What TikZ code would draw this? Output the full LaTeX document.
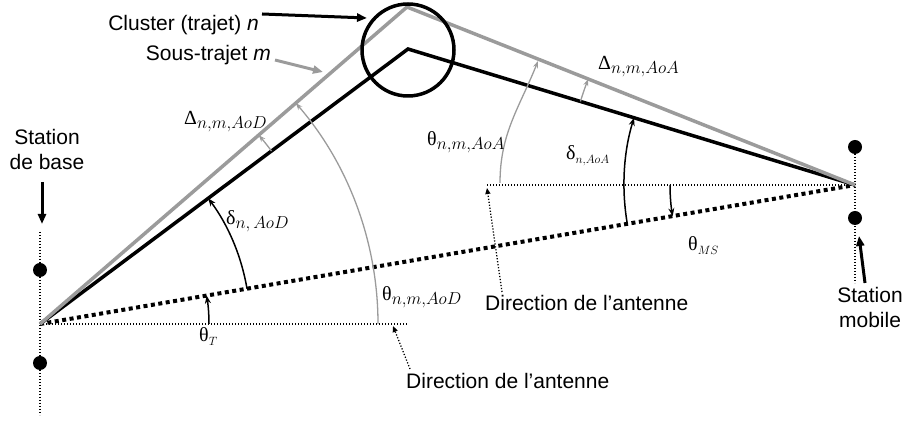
\documentclass[tikz,border=0pt]{standalone}
\usepackage{fontspec}
\setmainfont{Liberation Sans}
\newfontfamily\grk{Liberation Serif}
\usetikzlibrary{arrows.meta}
\definecolor{lg}{RGB}{155,155,155}
\newcommand{\glab}[3]{{\fontsize{20}{20}\selectfont\grk #1}\raisebox{-4pt}{\fontsize{#3}{#3}\selectfont$#2$}}
\begin{document}
\begin{tikzpicture}[x=1pt,y=1pt,
  lbl/.style={font=\fontsize{21}{25}\selectfont, inner sep=0pt},
  glb/.style={inner sep=0pt, anchor=west},
  thk/.style={line width=3.5pt},
  thindot/.style={line width=1.3pt, dash pattern=on 1.2pt off 1.8pt},
  losdot/.style={line width=4pt, dash pattern=on 4pt off 3.5pt},
  arcb/.style={line width=1.5pt, black, -{Stealth[length=8pt,width=6pt]}},
  arcg/.style={line width=1.3pt, lg, -{Stealth[length=7pt,width=5pt]}},
  bigarrow/.style={line width=3pt, -{Triangle[length=10pt,width=8pt]}},
  dotarrow/.style={thindot, -{Triangle[length=6pt,width=5pt]}},
  station/.style={circle, fill=black, inner sep=0pt, minimum size=14pt}
]
\useasboundingbox (0,0) rectangle (907,422);
% key points
\coordinate (BS) at (40,98);
\coordinate (MS) at (855,237);
\coordinate (G) at (407,415);
\coordinate (K) at (408,373);
\coordinate (BSh) at (408,98);
\coordinate (MSh) at (487,237);
% antenna axes
\coordinate (bst) at (40,190);
\coordinate (bsb) at (40,7);
\coordinate (mst) at (855,277);
\coordinate (msb) at (855,139);
\draw[thindot] (bst) -- (bsb);
\draw[thindot] (mst) -- (msb);
\node[station] (bs1) at (40,152) {};
\node[station] (bs2) at (40,59) {};
\node[station] (ms1) at (855,275) {};
\node[station] (ms2) at (855,204) {};
% directions
\draw[thindot] (BS) -- (BSh);
\draw[thindot] (MSh) -- (MS);
\draw[losdot] (BS) -- (MS);
% paths
\draw[thk, black] (BS) -- (K) -- (MS);
\draw[thk, lg] (BS) -- (G) -- (MS);
\node[draw, circle, line width=3.5pt, minimum size=92pt, inner sep=0pt] (cluster) at (408,372) {};
% angles at BS
\draw[arcb] (BS) ++(0:169) arc[start angle=0, end angle=9.68, radius=169];
\draw[arcb] (BS) ++(9.68:210) arc[start angle=9.68, end angle=36.77, radius=210];
\draw[arcg] (BS) ++(0:338) arc[start angle=0, end angle=40.82, radius=338];
\draw[arcg] (BS) ++(36.77:289) arc[start angle=36.77, end angle=40.82, radius=289];
% angles at MS
\coordinate (aoaS) at (500,239);
\coordinate (aoaE) at (538,361);
\draw[arcg] (aoaS) to[out=90, in=248.33] (aoaE);
\draw[arcb] (MS) ++(189.68:231) arc[start angle=189.68, end angle=163.08, radius=231];
\draw[arcb] (MS) ++(180:185) arc[start angle=180, end angle=189.68, radius=185];
\draw[arcg] (MS) ++(163.08:287) arc[start angle=163.08, end angle=158.33, radius=287];
% text labels
\node[lbl, anchor=east] (cl) at (259,397) {Cluster (trajet) \textit{n}};
\node[lbl, anchor=east] (st) at (271,367) {Sous-trajet \textit{m}};
\node[lbl, align=center] (sb) at (47,272) {Station\\de base};
\node[lbl, align=center] (sm) at (870,115) {Station\\mobile};
\node[lbl, anchor=west] (d1) at (406,41) {Direction de l’antenne};
\node[lbl, anchor=west] (d2) at (485,119) {Direction de l’antenne};
% label arrows
\coordinate (clS) at (262,408);
\coordinate (clE) at (367,404);
\draw[bigarrow] (clS) -- (clE);
\coordinate (stS) at (275,362);
\coordinate (stE) at (323,350);
\draw[bigarrow, lg] (stS) -- (stE);
\coordinate (sbS) at (42,240);
\coordinate (sbE) at (42,198);
\draw[bigarrow] (sbS) -- (sbE);
\coordinate (smS) at (865,139);
\coordinate (smE) at (859,186);
\draw[bigarrow] (smS) -- (smE);
\coordinate (d1S) at (410,53);
\coordinate (d1E) at (393,96);
\draw[dotarrow] (d1S) -- (d1E);
\coordinate (d2S) at (502,130);
\coordinate (d2E) at (487,234);
\draw[dotarrow] (d2S) -- (d2E);
% greek labels
\node[glb] (tT) at (199,85) {\glab{θ}{T}{12}};
\node[glb] (dAoD) at (226,201) {\glab{δ}{n{,}\,AoD}{16}};
\node[glb] (tAoD) at (382,125) {\glab{θ}{n{,}m{,}AoD}{16}};
\node[glb] (DAoD) at (184,300) {\glab{Δ}{n{,}m{,}AoD}{16}};
\node[glb] (tAoA) at (427,280) {\glab{θ}{n{,}m{,}AoA}{16}};
\node[glb] (dAoA) at (566,266) {\glab{δ}{n{,}AoA}{12.5}};
\node[glb] (DAoA) at (598,355) {\glab{Δ}{n{,}m{,}AoA}{16}};
\node[glb] (tMS) at (688,176) {\glab{θ}{MS}{12}};
\end{tikzpicture}
\end{document}
